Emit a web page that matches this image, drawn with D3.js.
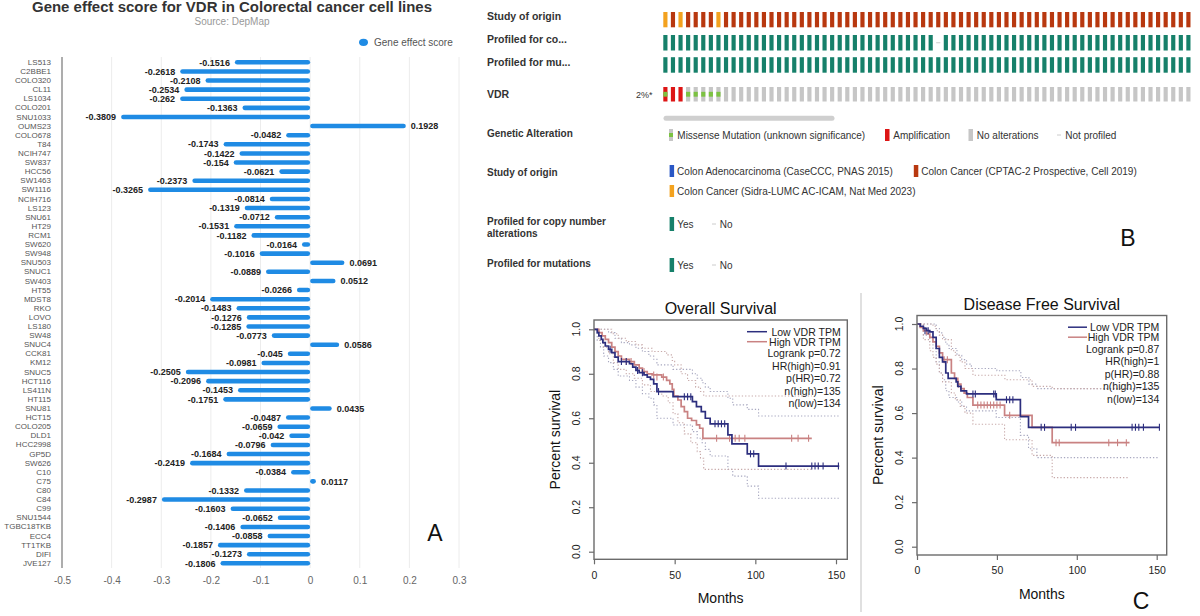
<!DOCTYPE html>
<html><head><meta charset="utf-8">
<script src="https://cdn.jsdelivr.net/npm/d3@7"></script>
<style>body{margin:0;background:#fff}svg{display:block;font-family:"Liberation Sans",Arial,sans-serif}</style>
</head><body><svg id="c" width="1200" height="616"></svg>
<script>
// ---------------- Panel A data ----------------
const cellLines = ["LS513","C2BBE1","COLO320","CL11","LS1034","COLO201","SNU1033","OUMS23","COLO678","T84","NCIH747","SW837","HCC56","SW1463","SW1116","NCIH716","LS123","SNU61","HT29","RCM1","SW620","SW948","SNU503","SNUC1","SW403","HT55","MDST8","RKO","LOVO","LS180","SW48","SNUC4","CCK81","KM12","SNUC5","HCT116","LS411N","HT115","SNU81","HCT15","COLO205","DLD1","HCC2998","GP5D","SW626","C10","C75","C80","C84","C99","SNU1544","TGBC18TKB","ECC4","TT1TKB","DIFI","JVE127"];
const geneEffect = [-0.1516,-0.2618,-0.2108,-0.2534,-0.262,-0.1363,-0.3809,0.1928,-0.0482,-0.1743,-0.1422,-0.154,-0.0621,-0.2373,-0.3265,-0.0814,-0.1319,-0.0712,-0.1531,-0.1182,-0.0164,-0.1016,0.0691,-0.0889,0.0512,-0.0266,-0.2014,-0.1483,-0.1276,-0.1285,-0.0773,0.0586,-0.045,-0.0981,-0.2505,-0.2096,-0.1453,-0.1751,0.0435,-0.0487,-0.0659,-0.042,-0.0796,-0.1684,-0.2419,-0.0384,0.0117,-0.1332,-0.2987,-0.1603,-0.0652,-0.1406,-0.0858,-0.1857,-0.1273,-0.1806];
const xTicksA = [-0.5,-0.4,-0.3,-0.2,-0.1,0,0.1,0.2,0.3];

// ---------------- Panel B data ----------------
// one character per sample column
const studyTrack  = "ORORRRRORR"+"RRRRRRRRRR"+"RRRRRRRRRR"+"RRRRRRRRRR"+"RRRRRRRRRR"+"RRRRRRRRRR"+"RRRRRRRRRR";
const cnaTrack    = "YYYYYYYYYY"+"YYYYYYYYYY"+"YYYYYYYYYY"+"YYYYYYNYYY"+"YYYYYYYYYY"+"YYYYYYYYYY"+"YYYYYYYYYY";
const mutTrack    = "YYYYYYYYYY"+"YYYYYYYYYY"+"YYYYYYYYYY"+"YYYYYYYYYY"+"YYYYYYYYYY"+"YYYYYYYYYY"+"YYYYYYYYYY";
const vdrTrack    = "BAAMMMMM--"+"----------"+"----------"+"----------"+"----------"+"----------"+"----------";
const trackLabels = ["Study of origin","Profiled for co...","Profiled for mu...","VDR"];
const vdrPercent = "2%*";
const altLegend = [["M","Missense Mutation (unknown significance)"],["A","Amplification"],["N","No alterations"],["-","Not profiled"]];
const studyLegend = [["C","Colon Adenocarcinoma (CaseCCC, PNAS 2015)"],["R","Colon Cancer (CPTAC-2 Prospective, Cell 2019)"],["O","Colon Cancer (Sidra-LUMC AC-ICAM, Nat Med 2023)"]];

// ---------------- Panel C data (months, survival) ----------------
const osLow = [[0,1],[2,0.985],[3,0.97],[4.5,0.955],[5.5,0.94],[7,0.925],[9,0.91],[11,0.895],[13,0.875],[15,0.855],[22,0.845],[24,0.83],[26,0.815],[28,0.805],[31,0.795],[33,0.785],[35,0.775],[37,0.755],[39,0.72],[49,0.697],[61,0.675],[63.5,0.652],[66.5,0.63],[69,0.6],[72,0.575],[83,0.525],[85.5,0.485],[95,0.44],[102,0.385],[152,0.385]];
const osLowCens = [[10,0.91],[17,0.855],[20,0.855],[27,0.815],[30,0.805],[40,0.72],[56,0.697],[58,0.697],[60,0.697],[75,0.575],[77,0.575],[79,0.575],[81,0.575],[97,0.44],[99,0.44],[119,0.385],[135,0.385],[137,0.385],[139,0.385],[142,0.385],[151.5,0.385]];
const osHigh = [[0,1],[3,0.985],[5,0.97],[7,0.955],[9,0.94],[11,0.92],[13,0.9],[15,0.88],[17,0.865],[22,0.855],[25,0.84],[28,0.825],[30,0.81],[33,0.8],[36,0.795],[42,0.785],[45,0.77],[47,0.755],[48.5,0.73],[49.5,0.7],[52,0.682],[54,0.652],[56,0.63],[58,0.6],[60.5,0.59],[63.5,0.57],[65.5,0.555],[67.5,0.51],[135,0.51]];
const osHighCens = [[20,0.855],[23,0.855],[31,0.81],[37,0.795],[39,0.785],[43,0.785],[76,0.51],[84,0.51],[87.5,0.51],[90,0.51],[93.5,0.51],[122.5,0.51],[126.5,0.51],[133,0.51]];
const osLowUp = [[0,1],[6,1],[9,0.985],[13,0.96],[17,0.94],[22,0.93],[26,0.915],[30,0.9],[34,0.88],[37,0.865],[39,0.84],[49,0.82],[61,0.8],[64,0.78],[67,0.76],[69,0.74],[72,0.72],[83,0.69],[86,0.66],[95,0.64],[102,0.61],[152,0.61]];
const osLowLo = [[0,1],[2,0.95],[4,0.92],[6,0.88],[9,0.85],[12,0.82],[15,0.79],[22,0.77],[26,0.74],[30,0.71],[34,0.69],[37,0.66],[39,0.6],[49,0.57],[61,0.54],[64,0.51],[67,0.49],[69,0.46],[72,0.43],[83,0.37],[86,0.34],[95,0.295],[102,0.24],[152,0.24]];
const osHighUp = [[0,1],[8,1],[11,0.98],[15,0.96],[20,0.945],[26,0.93],[30,0.915],[36,0.9],[45,0.885],[48.5,0.86],[50,0.84],[54,0.8],[58,0.77],[63,0.74],[66,0.72],[68,0.7],[135,0.7]];
const osHighLo = [[0,1],[3,0.95],[6,0.92],[9,0.89],[12,0.85],[15,0.82],[20,0.8],[25,0.78],[30,0.75],[35,0.72],[42,0.7],[46,0.67],[49,0.62],[52,0.58],[56,0.53],[60,0.49],[64,0.45],[66,0.42],[68,0.37],[135,0.37]];
const osStats = ["Logrank p=0.72","HR(high)=0.91","p(HR)=0.72","n(high)=135","n(low)=134"];

const dfsLow = [[0,1],[2,0.99],[4,0.98],[6,0.97],[8,0.965],[10,0.94],[12,0.89],[14,0.85],[16,0.83],[18,0.78],[19.5,0.756],[24.5,0.74],[25.5,0.72],[27.5,0.7],[31,0.686],[49.6,0.66],[64.7,0.584],[69.8,0.536],[151.7,0.536]];
const dfsLowCens = [[5,0.97],[7,0.97],[35,0.686],[36.5,0.686],[48,0.686],[49,0.686],[56,0.66],[58,0.66],[60,0.66],[77.7,0.536],[79.8,0.536],[96.5,0.536],[99.2,0.536],[134.6,0.536],[136.7,0.536],[138.8,0.536],[141.7,0.536],[151.7,0.536]];
const dfsHigh = [[0,1],[2,0.985],[4,0.97],[6,0.955],[8,0.94],[10,0.92],[12,0.9],[14,0.87],[16,0.84],[21.5,0.78],[23.5,0.756],[25.5,0.73],[27.5,0.71],[29.5,0.69],[31.5,0.67],[35,0.636],[54.8,0.59],[72,0.536],[84.6,0.467],[133,0.467]];
const dfsHighCens = [[17,0.84],[19,0.84],[26,0.73],[38,0.636],[40,0.636],[42,0.636],[44,0.636],[46,0.636],[48,0.636],[50,0.636],[52,0.636],[58,0.59],[87,0.467],[89,0.467],[120,0.467],[125.5,0.467],[131,0.467]];
const dfsLowUp = [[0,1],[10,1],[12,0.98],[14,0.96],[16,0.94],[18,0.91],[20,0.89],[25,0.86],[28,0.84],[31,0.82],[34,0.8],[50,0.79],[65,0.76],[70,0.73],[75,0.71],[151.7,0.71]];
const dfsLowLo = [[0,1],[4,0.95],[8,0.92],[10,0.89],[12,0.83],[14,0.78],[16,0.75],[18,0.7],[20,0.67],[25,0.65],[28,0.63],[31,0.61],[49.6,0.58],[64.7,0.5],[69.8,0.44],[75,0.4],[151.7,0.4]];
const dfsHighUp = [[0,1],[8,1],[10,0.99],[12,0.97],[14,0.95],[16,0.93],[21.5,0.88],[24,0.86],[27,0.83],[30,0.8],[35,0.77],[55,0.75],[72,0.72],[84.6,0.71],[133,0.71]];
const dfsHighLo = [[0,1],[4,0.93],[8,0.88],[10,0.85],[12,0.82],[14,0.78],[16,0.74],[21.5,0.69],[24,0.66],[27,0.63],[30,0.6],[35,0.55],[54.8,0.48],[72,0.41],[84.6,0.31],[133,0.31]];
const dfsStats = ["Logrank p=0.87","HR(high)=1","p(HR)=0.88","n(high)=135","n(low)=134"];
const kmTicksX = [0,50,100,150];
const kmTicksY = [0,0.2,0.4,0.6,0.8,1];
const kmLegend = ["Low VDR TPM","High VDR TPM"];

// ================= drawing =================
const svg = d3.select('#c');
const FONT = '"Liberation Sans",Arial,sans-serif';
svg.append('rect').attr('width',1200).attr('height',616).attr('fill','#fff');

// ---------- Panel A ----------
const BLUE = '#1f8be4';
const gA = svg.append('g');
const xA = d3.scaleLinear().domain([-0.5,0.3]).range([62,459]);
const yA = d3.scaleBand().domain(cellLines).range([57.75,567.9]).paddingInner(0.5).paddingOuter(0.25);

gA.append('text').attr('x',232).attr('y',12).attr('text-anchor','middle')
  .attr('font-size',14).attr('font-weight','bold').attr('fill','#333')
  .attr('textLength',400).attr('lengthAdjust','spacingAndGlyphs')
  .text('Gene effect score for VDR in Colorectal cancer cell lines');
gA.append('text').attr('x',232).attr('y',24.5).attr('text-anchor','middle')
  .attr('font-size',10).attr('fill','#999').text('Source: DepMap');
gA.append('ellipse').attr('cx',363.5).attr('cy',42.3).attr('rx',4.5).attr('ry',3.6).attr('fill',BLUE);
gA.append('text').attr('x',374).attr('y',45.8).attr('font-size',10).attr('fill','#555').text('Gene effect score');

gA.selectAll('line.grid').data(xTicksA.slice(1)).join('line').attr('class','grid')
  .attr('x1',d=>xA(d)).attr('x2',d=>xA(d)).attr('y1',57).attr('y2',568)
  .attr('stroke','#ececec').attr('stroke-width',1);
gA.append('line').attr('x1',xA(-0.5)).attr('x2',xA(-0.5)).attr('y1',57).attr('y2',568)
  .attr('stroke','#8a8a8a').attr('stroke-width',1.4);

const axY = gA.append('g').attr('transform',`translate(${xA(-0.5)},0)`)
  .call(d3.axisLeft(yA).tickSize(0).tickPadding(11));
axY.select('.domain').remove();
axY.selectAll('text').attr('font-size',8).attr('fill','#555').attr('font-family',FONT);

const axX = gA.append('g').attr('transform','translate(0,568)')
  .call(d3.axisBottom(xA).tickValues(xTicksA).tickSize(0).tickPadding(9).tickFormat(d=>String(d)));
axX.select('.domain').remove();
axX.selectAll('text').attr('font-size',10).attr('fill','#666').attr('font-family',FONT);

const rowsA = cellLines.map((c,i)=>({c, v:geneEffect[i]}));
gA.selectAll('rect.bar').data(rowsA).join('rect').attr('class','bar')
  .attr('x',d=>Math.min(xA(0),xA(d.v))).attr('width',d=>Math.abs(xA(d.v)-xA(0)))
  .attr('y',d=>yA(d.c)).attr('height',yA.bandwidth()).attr('rx',yA.bandwidth()/2)
  .attr('fill',BLUE);
gA.selectAll('text.val').data(rowsA).join('text').attr('class','val')
  .attr('x',d=>d.v<0 ? xA(d.v)-5 : xA(d.v)+5)
  .attr('y',d=>yA(d.c)+yA.bandwidth()/2+3.2)
  .attr('text-anchor',d=>d.v<0?'end':'start')
  .attr('font-size',9).attr('font-weight','bold').attr('fill','#222')
  .text(d=>String(d.v));
gA.append('text').attr('x',435).attr('y',541).attr('text-anchor','middle')
  .attr('font-size',23).attr('fill','#111').text('A');

// ---------- Panel B ----------
const gB = svg.append('g');
const nCols = studyTrack.length;
const xB = d3.scaleBand().domain(d3.range(nCols)).range([663.3, 663.3+69*7.58+4.17]).paddingInner(0.45).paddingOuter(0);
const studyColor = {O:'#f3a21f', R:'#b8380f', C:'#2a57c5'};
const TEAL = '#16806a', GRAY='#c6c6c6', AMP='#dd1515', MIS='#7cc242';
const rowsB = [{y:12,h:15.3},{y:35,h:15.5},{y:57.2,h:15.5},{y:87,h:14.5}];
const labY = [20,43,65.5,97.5];
gB.selectAll('text.tl').data(trackLabels).join('text').attr('class','tl')
  .attr('x',487).attr('y',(d,i)=>labY[i]).attr('font-size',10.5).attr('font-weight','bold')
  .attr('fill','#333').text(d=>d);
gB.append('text').attr('x',636).attr('y',98).attr('font-size',9).attr('fill','#333').text(vdrPercent);

const cols = d3.range(nCols);
gB.selectAll('rect.st').data(cols).join('rect').attr('class','st')
  .attr('x',i=>xB(i)).attr('width',xB.bandwidth()).attr('y',rowsB[0].y).attr('height',rowsB[0].h)
  .attr('fill',i=>studyColor[studyTrack[i]]);
[[cnaTrack,1],[mutTrack,2]].forEach(([tr,r])=>{
  gB.selectAll('rect.p'+r).data(cols.filter(i=>tr[i]==='Y')).join('rect').attr('class','p'+r)
    .attr('x',i=>xB(i)).attr('width',xB.bandwidth()).attr('y',rowsB[r].y).attr('height',rowsB[r].h).attr('fill',TEAL);
  gB.selectAll('line.n'+r).data(cols.filter(i=>tr[i]==='N')).join('line').attr('class','n'+r)
    .attr('x1',i=>xB(i)).attr('x2',i=>xB(i)+xB.bandwidth()).attr('y1',rowsB[r].y+rowsB[r].h/2).attr('y2',rowsB[r].y+rowsB[r].h/2)
    .attr('stroke','#ccc').attr('stroke-width',1);
});
const rv = rowsB[3];
gB.selectAll('rect.vd').data(cols).join('rect').attr('class','vd')
  .attr('x',i=>xB(i)).attr('width',xB.bandwidth()).attr('y',rv.y).attr('height',rv.h)
  .attr('fill',i=>(vdrTrack[i]==='A'||vdrTrack[i]==='B')?AMP:GRAY);
gB.selectAll('rect.vm').data(cols.filter(i=>vdrTrack[i]==='M'||vdrTrack[i]==='B')).join('rect').attr('class','vm')
  .attr('x',i=>xB(i)).attr('width',xB.bandwidth()).attr('y',rv.y+rv.h/3).attr('height',rv.h/3).attr('fill',MIS);
gB.append('rect').attr('x',663.5).attr('y',115.8).attr('width',171).attr('height',5).attr('rx',2.5).attr('fill','#cfcfcf');

// legends
const legLabels = [["Genetic Alteration",136.5],["Study of origin",175.5],["Profiled for copy number",225],["alterations",236.5],["Profiled for mutations",266.5]];
gB.selectAll('text.ll').data(legLabels).join('text').attr('class','ll')
  .attr('x',487).attr('y',d=>d[1]).attr('font-size',10).attr('font-weight','bold').attr('fill','#333').text(d=>d[0]);
const altX = [669,885,968.5,1057];
altLegend.forEach(([k,t],i)=>{
  const x=altX[i];
  if(k==='M'){ gB.append('rect').attr('x',x).attr('y',129).attr('width',4).attr('height',12).attr('fill',GRAY);
               gB.append('rect').attr('x',x).attr('y',133).attr('width',4).attr('height',4).attr('fill',MIS);}
  else if(k==='A'){ gB.append('rect').attr('x',x).attr('y',129).attr('width',4.5).attr('height',12).attr('fill',AMP);}
  else if(k==='N'){ gB.append('rect').attr('x',x).attr('y',129).attr('width',4.5).attr('height',12).attr('fill',GRAY);}
  else { gB.append('line').attr('x1',x).attr('x2',x+4).attr('y1',135).attr('y2',135).attr('stroke','#ccc');}
  gB.append('text').attr('x',x+8.3).attr('y',138.5).attr('font-size',10).attr('fill','#333').text(t);
});
const stPos = [[669.6,171],[913.8,171],[669.6,191]];
studyLegend.forEach(([k,t],i)=>{
  const [x,yc]=stPos[i];
  gB.append('rect').attr('x',x).attr('y',yc-6).attr('width',4.5).attr('height',12).attr('fill',studyColor[k]);
  gB.append('text').attr('x',x+7.5).attr('y',yc+3.5).attr('font-size',10).attr('fill','#333').text(t);
});
[224,265].forEach(yc=>{
  gB.append('rect').attr('x',669.6).attr('y',yc-7).attr('width',4.5).attr('height',14).attr('fill',TEAL);
  gB.append('text').attr('x',677.3).attr('y',yc+3.5).attr('font-size',10).attr('fill','#333').text('Yes');
  gB.append('line').attr('x1',712).attr('x2',716).attr('y1',yc).attr('y2',yc).attr('stroke','#ccc');
  gB.append('text').attr('x',719.8).attr('y',yc+3.5).attr('font-size',10).attr('fill','#333').text('No');
});
gB.append('text').attr('x',1128).attr('y',246).attr('text-anchor','middle').attr('font-size',23).attr('fill','#111').text('B');

// ---------- Panel C ----------
const NAVY='#2c2e7e', ROSE='#c98282';
function km(cfg){
  const g = svg.append('g');
  const x = d3.scaleLinear().domain([0,150]).range(cfg.xr);
  const y = d3.scaleLinear().domain([0,1]).range(cfg.yr);
  const fr = cfg.frame; // [left, top, right, bottom]
  const line = d3.line().x(d=>x(d[0])).y(d=>y(d[1])).curve(d3.curveStepAfter);
  // CI
  [[cfg.lowUp,'#a8a8c0'],[cfg.lowLo,'#a8a8c0'],[cfg.highUp,'#c8aaaa'],[cfg.highLo,'#c8aaaa']].forEach(([d,c])=>{
    g.append('path').attr('d',line(d)).attr('fill','none').attr('stroke',c).attr('stroke-width',1.1).attr('stroke-dasharray','1.3,2');
  });
  [[cfg.high,ROSE,cfg.highC],[cfg.low,NAVY,cfg.lowC]].forEach(([d,c,cc])=>{
    g.append('path').attr('d',line(d)).attr('fill','none').attr('stroke',c).attr('stroke-width',1.7);
    g.selectAll(null).data(cc).join('line').attr('x1',p=>x(p[0])).attr('x2',p=>x(p[0]))
      .attr('y1',p=>y(p[1])-3.5).attr('y2',p=>y(p[1])+3.5).attr('stroke',c).attr('stroke-width',1.1);
  });
  // frame
  g.append('rect').attr('x',fr[0]).attr('y',fr[1]).attr('width',fr[2]-fr[0]).attr('height',fr[3]-fr[1])
    .attr('fill','none').attr('stroke','#6b6b6b').attr('stroke-width',1.4);
  const ax = g.append('g').attr('transform',`translate(0,${fr[3]})`)
    .call(d3.axisBottom(x).tickValues(kmTicksX).tickSize(5).tickPadding(7).tickFormat(d=>String(d)));
  ax.select('.domain').remove();
  ax.selectAll('line').attr('stroke','#6b6b6b').attr('stroke-width',1.2);
  ax.selectAll('text').attr('font-size',10.5).attr('fill','#222').attr('font-family',FONT);
  const ay = g.append('g').attr('transform',`translate(${fr[0]},0)`)
    .call(d3.axisLeft(y).tickValues(kmTicksY).tickSize(5).tickFormat(d3.format('.1f')));
  ay.select('.domain').remove();
  ay.selectAll('line').attr('stroke','#6b6b6b').attr('stroke-width',1.2);
  ay.selectAll('text').remove();
  g.selectAll('text.yt').data(kmTicksY).join('text').attr('class','yt')
    .attr('transform',d=>`translate(${fr[0]-14},${y(d)}) rotate(-90)`).attr('text-anchor','middle')
    .attr('font-size',10.5).attr('fill','#222').text(d=>d3.format('.1f')(d));
  g.append('text').attr('x',(fr[0]+fr[2])/2 + cfg.titleDx).attr('y',fr[1]-6).attr('text-anchor','middle')
    .attr('font-size',16).attr('fill','#111').text(cfg.title);
  g.append('text').attr('x',(fr[0]+fr[2])/2 + cfg.titleDx).attr('y',fr[3]+44).attr('text-anchor','middle')
    .attr('font-size',14).attr('fill','#111').text('Months');
  g.append('text').attr('transform',`translate(${fr[0]-34},${(fr[1]+fr[3])/2}) rotate(-90)`).attr('text-anchor','middle')
    .attr('font-size',14).attr('fill','#111').text('Percent survival');
  // legend
  const ly = fr[1]+11.7;
  [NAVY,ROSE].forEach((c,i)=>{
    g.append('line').attr('x1',cfg.legX[0]).attr('x2',cfg.legX[1]).attr('y1',ly+i*10).attr('y2',ly+i*10).attr('stroke',c).attr('stroke-width',1.5);
    g.append('text').attr('x',cfg.legEnd).attr('y',ly+i*10+4).attr('text-anchor','end').attr('font-size',10.5).attr('fill','#222').text(kmLegend[i]);
  });
  cfg.stats.forEach((t,i)=>{
    g.append('text').attr('x',cfg.legEnd).attr('y',ly+21.5+i*12.5+4).attr('text-anchor','end').attr('font-size',10.5).attr('fill','#222').text(t);
  });
}
km({title:'Overall Survival', xr:[594,836], yr:[551.7,329.3], frame:[594,320,847.3,559.3], titleDx:0,
    low:osLow, lowC:osLowCens, high:osHigh, highC:osHighCens, lowUp:osLowUp, lowLo:osLowLo, highUp:osHighUp, highLo:osHighLo,
    stats:osStats, legX:[747,767], legEnd:840.7});
km({title:'Disease Free Survival', xr:[917,1156.7], yr:[546.7,324], frame:[917,315.5,1166.7,555], titleDx:0,
    low:dfsLow, lowC:dfsLowCens, high:dfsHigh, highC:dfsHighCens, lowUp:dfsLowUp, lowLo:dfsLowLo, highUp:dfsHighUp, highLo:dfsHighLo,
    stats:dfsStats, legX:[1068,1087], legEnd:1159.3});
svg.append('line').attr('x1',861).attr('x2',861).attr('y1',293).attr('y2',612).attr('stroke','#e0e0e0').attr('stroke-width',2);
svg.append('text').attr('x',1141).attr('y',609).attr('text-anchor','middle').attr('font-size',23).attr('fill','#111').text('C');
</script></body></html>
